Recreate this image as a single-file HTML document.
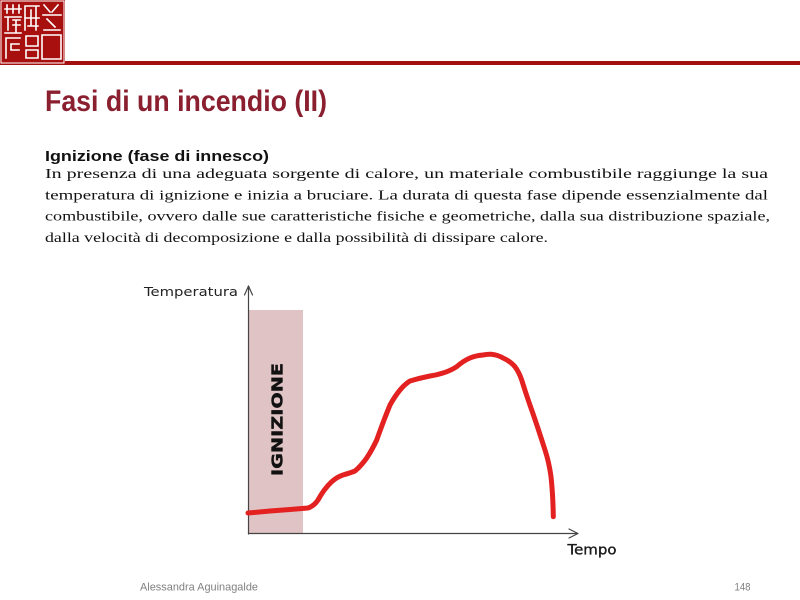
<!DOCTYPE html>
<html>
<head>
<meta charset="utf-8">
<style>
  html,body{margin:0;padding:0;background:#fff;}
  svg{display:block;}
</style>
</head>
<body>
<svg width="800" height="600" viewBox="0 0 800 600" xmlns="http://www.w3.org/2000/svg">
  <rect x="0" y="0" width="800" height="600" fill="#ffffff"/>

  <!-- header red rule -->
  <rect x="0" y="61" width="800" height="4" fill="#a30e0e"/>

  <!-- seal -->
  <rect x="0" y="0" width="65" height="64" fill="#a8100f"/>
  <g stroke="#ffffff" stroke-width="1.6" fill="none" stroke-linecap="square">
    <path d="M5 9 H21 M7 5 V13 M13 5 V13 M19 5 V13 M5 17 H21 M8 17 V30 M13 20 H20 M13 25 H20 M16 20 V33 M5 33 H21"/>
    <path d="M6 38 H20 M6 38 V58 M11 44 H19 M11 44 V50 M11 50 H19"/>
    <path d="M25 6 H39 M25 6 V30 M31 10 V26 M25 18 H39 M36 6 V30 M28 26 H38"/>
    <path d="M26 36 H38 V46 H26 Z M26 50 H38 V58 H26 Z"/>
    <path d="M44 5 L50 12 M58 5 L52 12 M43 15 H61 M47 19 L55 27 M44 30 H60"/>
    <path d="M42 35 H61 V59 H42 Z"/>
  </g>
  <rect x="44" y="37" width="15" height="20" rx="6" fill="#a8100f"/>
  <rect x="1" y="1" width="63" height="62" fill="none" stroke="#ffffff" stroke-width="1"/>

  <!-- title -->
  <text x="45" y="111" font-family="Liberation Sans, sans-serif" font-weight="bold" font-size="30" fill="#8a1f2f" textLength="282" lengthAdjust="spacingAndGlyphs">Fasi di un incendio (II)</text>

  <!-- subtitle -->
  <text x="45" y="161" font-family="Liberation Sans, sans-serif" font-weight="bold" font-size="15" fill="#111111" textLength="224" lengthAdjust="spacingAndGlyphs">Ignizione (fase di innesco)</text>

  <!-- body -->
  <g font-family="Liberation Serif, serif" font-size="13.8" fill="#111111">
    <text x="45" y="178" textLength="723" lengthAdjust="spacingAndGlyphs">In presenza di una adeguata sorgente di calore, un materiale combustibile raggiunge la sua</text>
    <text x="45" y="199.5" textLength="723" lengthAdjust="spacingAndGlyphs">temperatura di ignizione e inizia a bruciare. La durata di questa fase dipende essenzialmente dal</text>
    <text x="45" y="220.5" textLength="725" lengthAdjust="spacingAndGlyphs">combustibile, ovvero dalle sue caratteristiche fisiche e geometriche, dalla sua distribuzione spaziale,</text>
    <text x="45" y="242" textLength="503" lengthAdjust="spacingAndGlyphs">dalla velocità di decomposizione e dalla possibilità di dissipare calore.</text>
  </g>

  <!-- chart -->
  <rect x="249" y="310" width="54" height="224" fill="#e0c3c4"/>
  <text transform="translate(282.5,419.5) rotate(-90)" text-anchor="middle" font-family="DejaVu Sans, sans-serif" font-weight="bold" font-size="15" fill="#111111" stroke="#111111" stroke-width="0.4" textLength="113" lengthAdjust="spacingAndGlyphs">IGNIZIONE</text>

  <!-- axes -->
  <g stroke="#444444" stroke-width="1.2" fill="none" stroke-linecap="round" stroke-linejoin="round">
    <path d="M248.5 534 V286"/>
    <path d="M244.5 295 L248.5 286 L252.5 295"/>
    <path d="M248.5 533.5 H577"/>
    <path d="M569 529 L578 533.5 L569 538"/>
  </g>

  <!-- curve -->
  <path d="M248 513 L270 511 L290 509.5 L308 508 Q314 506 318 500 Q324 489 331.7 481.7 Q337 477 343 475 Q350 473 355 471 Q361 466 366.7 458 Q372 450 376.7 440 Q383 422 390 405 Q395 396 400 390 Q405 384 410 381 Q420 378 430 376 Q437 375 443 373 Q450 371 456.7 366.7 Q463 361 470 358 Q476 355.5 483 355 Q488 354 491.7 354.3 Q498 355 503 358 Q510 361 515 366.7 Q519 372 521.7 380 Q526 394 531.7 410 Q538 428 545 450 Q549 462 551 476.7 Q553 495 553.3 516.7"
        fill="none" stroke="#e32121" stroke-width="5" stroke-linecap="round" stroke-linejoin="round"/>

  <!-- axis labels -->
  <text x="144" y="296" font-family="DejaVu Sans, sans-serif" font-size="12" fill="#222222" textLength="94" lengthAdjust="spacingAndGlyphs">Temperatura</text>
  <text x="567.5" y="554.5" font-family="DejaVu Sans, sans-serif" font-size="14" fill="#1a1a1a" stroke="#1a1a1a" stroke-width="0.35" textLength="49" lengthAdjust="spacingAndGlyphs">Tempo</text>

  <!-- footer -->
  <text x="140" y="590.5" font-family="Liberation Sans, sans-serif" font-size="11" fill="#808080" textLength="118" lengthAdjust="spacingAndGlyphs">Alessandra Aguinagalde</text>
  <text x="734.5" y="590.5" font-family="Liberation Sans, sans-serif" font-size="11" fill="#808080" textLength="16" lengthAdjust="spacingAndGlyphs">148</text>
</svg>
</body>
</html>
